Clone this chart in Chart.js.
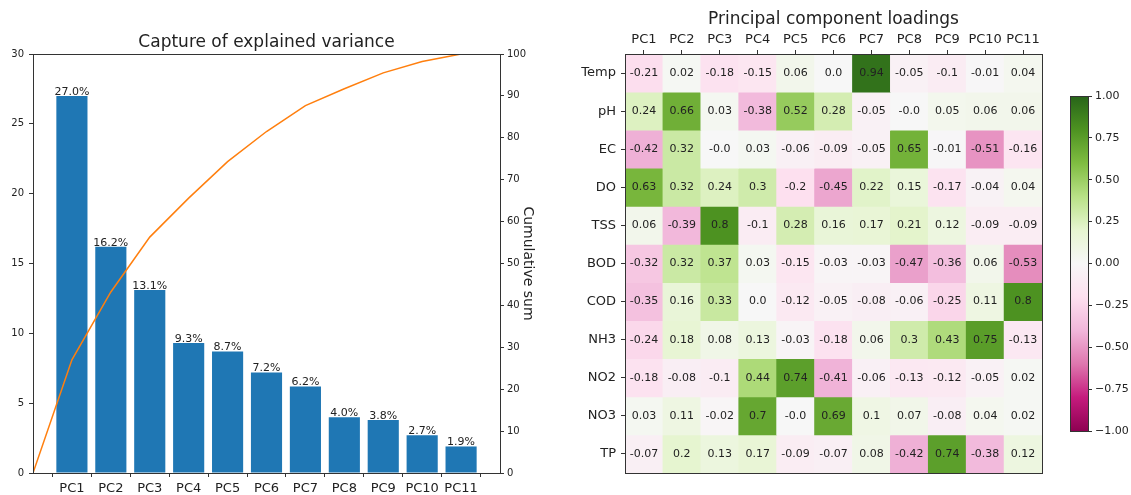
<!DOCTYPE html>
<html>
<head>
<meta charset="utf-8">
<script src="https://cdn.jsdelivr.net/npm/chart.js@4"></script>
<style>
  body { margin: 0; background: #fff; width: 1131px; height: 495px; overflow: hidden; position: relative; }
  canvas { position: absolute; top: 0; }
</style>
</head>
<body>
<canvas id="varianceChart" width="560" height="495" style="left:0"></canvas>
<canvas id="loadingChart" width="500" height="495" style="left:560px"></canvas>
<canvas id="colorbar" width="71" height="495" style="left:1060px"></canvas>
<script>
const components = ['PC1', 'PC2', 'PC3', 'PC4', 'PC5', 'PC6', 'PC7', 'PC8', 'PC9', 'PC10', 'PC11'];
const explained = [27.0, 16.2, 13.1, 9.3, 8.7, 7.2, 6.2, 4.0, 3.8, 2.7, 1.9];
const cumulative = [0, 27.0, 43.2, 56.3, 65.6, 74.3, 81.5, 87.7, 91.7, 95.5, 98.2, 100.0];

const variables = ['Temp', 'pH', 'EC', 'DO', 'TSS', 'BOD', 'COD', 'NH3', 'NO2', 'NO3', 'TP'];
const loadings = [
  [-0.21, 0.02, -0.18, -0.15, 0.06, 0.0, 0.94, -0.05, -0.1, -0.01, 0.04],
  [0.24, 0.66, 0.03, -0.38, 0.52, 0.28, -0.05, -0.0, 0.05, 0.06, 0.06],
  [-0.42, 0.32, -0.0, 0.03, -0.06, -0.09, -0.05, 0.65, -0.01, -0.51, -0.16],
  [0.63, 0.32, 0.24, 0.3, -0.2, -0.45, 0.22, 0.15, -0.17, -0.04, 0.04],
  [0.06, -0.39, 0.8, -0.1, 0.28, 0.16, 0.17, 0.21, 0.12, -0.09, -0.09],
  [-0.32, 0.32, 0.37, 0.03, -0.15, -0.03, -0.03, -0.47, -0.36, 0.06, -0.53],
  [-0.35, 0.16, 0.33, 0.0, -0.12, -0.05, -0.08, -0.06, -0.25, 0.11, 0.8],
  [-0.24, 0.18, 0.08, 0.13, -0.03, -0.18, 0.06, 0.3, 0.43, 0.75, -0.13],
  [-0.18, -0.08, -0.1, 0.44, 0.74, -0.41, -0.06, -0.13, -0.12, -0.05, 0.02],
  [0.03, 0.11, -0.02, 0.7, -0.0, 0.69, 0.1, 0.07, -0.08, 0.04, 0.02],
  [-0.07, 0.2, 0.13, 0.17, -0.09, -0.07, 0.08, -0.42, 0.74, -0.38, 0.12]
];
const colorbarTicks = [-1, -0.75, -0.5, -0.25, 0, 0.25, 0.5, 0.75, 1];

// PiYG colormap (ColorBrewer, 11 stops, -1 -> +1)
const piygStops = [
  [142, 1, 82], [197, 27, 125], [222, 119, 174], [241, 182, 218], [253, 224, 239],
  [247, 247, 247], [230, 245, 208], [184, 225, 134], [127, 188, 65], [77, 146, 33], [39, 100, 25]
];

function piyg(v) {
  const t = Math.min(Math.max((v + 1) / 2, 0), 1) * 10;
  const i = Math.min(Math.floor(t), 9);
  const f = t - i;
  const a = piygStops[i], b = piygStops[i + 1];
  const c = a.map((x, k) => Math.round(x + (b[k] - x) * f));
  return `rgb(${c[0]},${c[1]},${c[2]})`;
}

function fmtLoading(v) {
  if (Number.isInteger(v)) return (Object.is(v, -0) ? '-' : '') + Math.abs(v).toFixed(1);
  return String(v);
}

Chart.defaults.font.family = '"DejaVu Sans", sans-serif';
Chart.defaults.color = '#222';

const TEXT = '#222';
const EDGE = '#333';

// box around the plot area, like matplotlib spines
const frame = {
  id: 'frame',
  afterDatasetsDraw(chart) {
    const { ctx, chartArea: a } = chart;
    ctx.save();
    ctx.strokeStyle = EDGE;
    ctx.lineWidth = 1;
    const l = Math.round(a.left) + 0.5, t = Math.round(a.top) + 0.5;
    ctx.strokeRect(l, t, Math.round(a.right) - Math.round(a.left), Math.round(a.bottom) - Math.round(a.top));
    ctx.restore();
  }
};

const barLabels = {
  id: 'barLabels',
  afterDatasetsDraw(chart) {
    const meta = chart.getDatasetMeta(1);
    const ctx = chart.ctx;
    ctx.save();
    ctx.font = '11px "DejaVu Sans"';
    ctx.fillStyle = TEXT;
    ctx.textAlign = 'center';
    ctx.textBaseline = 'alphabetic';
    meta.data.forEach((bar, i) => {
      ctx.fillText(explained[i].toFixed(1) + '%', bar.x, bar.y - 1);
    });
    ctx.restore();
  }
};

const cellLabels = {
  id: 'cellLabels',
  afterDatasetsDraw(chart) {
    const ctx = chart.ctx;
    ctx.save();
    ctx.font = '11px "DejaVu Sans"';
    ctx.fillStyle = TEXT;
    ctx.textAlign = 'center';
    ctx.textBaseline = 'middle';
    loadings.forEach((row, r) => {
      chart.getDatasetMeta(r).data.forEach((cell, c) => {
        ctx.fillText(fmtLoading(row[c]), cell.x, (cell.y + cell.base) / 2);
      });
    });
    ctx.restore();
  }
};

// left: explained variance bars + cumulative line
new Chart(document.getElementById('varianceChart'), {
  type: 'bar',
  data: {
    datasets: [
      {
        type: 'line',
        data: cumulative.map((c, i) => ({ x: i, y: c })),
        yAxisID: 'y2',
        borderColor: '#ff7f0e',
        borderWidth: 1.5,
        pointRadius: 0,
        tension: 0,
        order: 0
      },
      {
        type: 'bar',
        data: explained.map((v, i) => ({ x: i + 1, y: v })),
        yAxisID: 'y',
        backgroundColor: '#1f77b4',
        barPercentage: 0.8,
        categoryPercentage: 1,
        order: 1
      }
    ]
  },
  options: {
    responsive: false,
    animation: false,
    layout: { padding: 0 },
    plugins: {
      legend: { display: false },
      tooltip: { enabled: false },
      title: {
        display: true,
        text: 'Capture of explained variance',
        font: { size: 17, weight: 'normal' },
        color: TEXT,
        fullSize: false,
        padding: { top: 32.6, bottom: 1 }
      }
    },
    scales: {
      x: {
        type: 'linear', min: 0, max: 12, offset: false,
        afterBuildTicks: s => { s.ticks = components.map((_, i) => ({ value: i + 1 })); },
        afterFit: s => { s.height = 22; },
        ticks: { callback: v => components[v - 1], font: { size: 13 }, color: TEXT, padding: 4, autoSkip: false, maxRotation: 0 },
        grid: { drawOnChartArea: false, tickLength: 4, color: EDGE },
        border: { display: false }
      },
      y: {
        position: 'left', min: 0, max: 30,
        afterFit: s => { s.width = 33; },
        ticks: { stepSize: 5, font: { size: 10 }, color: TEXT, padding: 5 },
        grid: { drawOnChartArea: false, tickLength: 4, color: EDGE },
        border: { display: false }
      },
      y2: {
        position: 'right', min: 0, max: 100,
        afterFit: s => { s.width = 60; },
        ticks: { stepSize: 10, font: { size: 10 }, color: TEXT, padding: 3 },
        grid: { drawOnChartArea: false, tickLength: 4, color: EDGE },
        border: { display: false },
        title: { display: true, text: 'Cumulative sum', font: { size: 14 }, color: TEXT, padding: { top: 24, bottom: 0 } }
      }
    }
  },
  plugins: [barLabels, frame]
});

// middle: loadings heatmap, one floating-bar dataset per variable row
new Chart(document.getElementById('loadingChart'), {
  type: 'bar',
  data: {
    labels: components,
    datasets: loadings.map((row, r) => ({
      label: variables[r],
      data: row.map(() => [r, r + 1]),
      backgroundColor: row.map(v => piyg(v)),
      borderWidth: 0,
      grouped: false,
      barPercentage: 1,
      categoryPercentage: 1
    }))
  },
  options: {
    responsive: false,
    animation: false,
    layout: { padding: { right: 18, bottom: 22 } },
    plugins: {
      legend: { display: false },
      tooltip: { enabled: false },
      title: {
        display: true,
        text: 'Principal component loadings',
        font: { size: 17, weight: 'normal' },
        color: TEXT,
        fullSize: false,
        padding: { top: 9, bottom: 0 }
      }
    },
    scales: {
      x: {
        type: 'category', position: 'top',
        afterFit: s => { s.height = 24.6; },
        ticks: { font: { size: 13 }, color: TEXT, padding: 3, autoSkip: false, maxRotation: 0 },
        grid: { drawOnChartArea: false, tickLength: 4, offset: false, color: EDGE },
        border: { display: false }
      },
      y: {
        type: 'linear', min: 0, max: 11, reverse: true,
        afterBuildTicks: s => { s.ticks = variables.map((_, i) => ({ value: i + 0.5 })); },
        afterFit: s => { s.width = 65; },
        ticks: { callback: v => variables[Math.floor(v)], font: { size: 13 }, color: TEXT, padding: 5 },
        grid: { drawOnChartArea: false, tickLength: 4, color: EDGE },
        border: { display: false }
      }
    }
  },
  plugins: [cellLabels, frame]
});

// right: colorbar
new Chart(document.getElementById('colorbar'), {
  type: 'bar',
  data: {
    labels: [''],
    datasets: [{
      data: [[-1, 1]],
      borderWidth: 0,
      barPercentage: 1,
      categoryPercentage: 1,
      backgroundColor: ctx => {
        const area = ctx.chart.chartArea;
        if (!area) return piyg(0);
        const g = ctx.chart.ctx.createLinearGradient(0, area.bottom, 0, area.top);
        piygStops.forEach((c, i) => g.addColorStop(i / 10, `rgb(${c[0]},${c[1]},${c[2]})`));
        return g;
      }
    }]
  },
  options: {
    responsive: false,
    animation: false,
    layout: { padding: { top: 96, bottom: 64, left: 10 } },
    plugins: { legend: { display: false }, tooltip: { enabled: false } },
    scales: {
      x: { display: false },
      y: {
        position: 'right', min: -1, max: 1,
        afterBuildTicks: s => { s.ticks = colorbarTicks.map(v => ({ value: v })); },
        afterFit: s => { s.width = 43; },
        ticks: {
          callback: v => (v < 0 ? '\u2212' : '') + Math.abs(v).toFixed(2),
          font: { size: 11 }, color: TEXT, padding: 3
        },
        grid: { drawOnChartArea: false, tickLength: 4, color: EDGE },
        border: { display: false }
      }
    }
  },
  plugins: [frame]
});
</script>
</body>
</html>
